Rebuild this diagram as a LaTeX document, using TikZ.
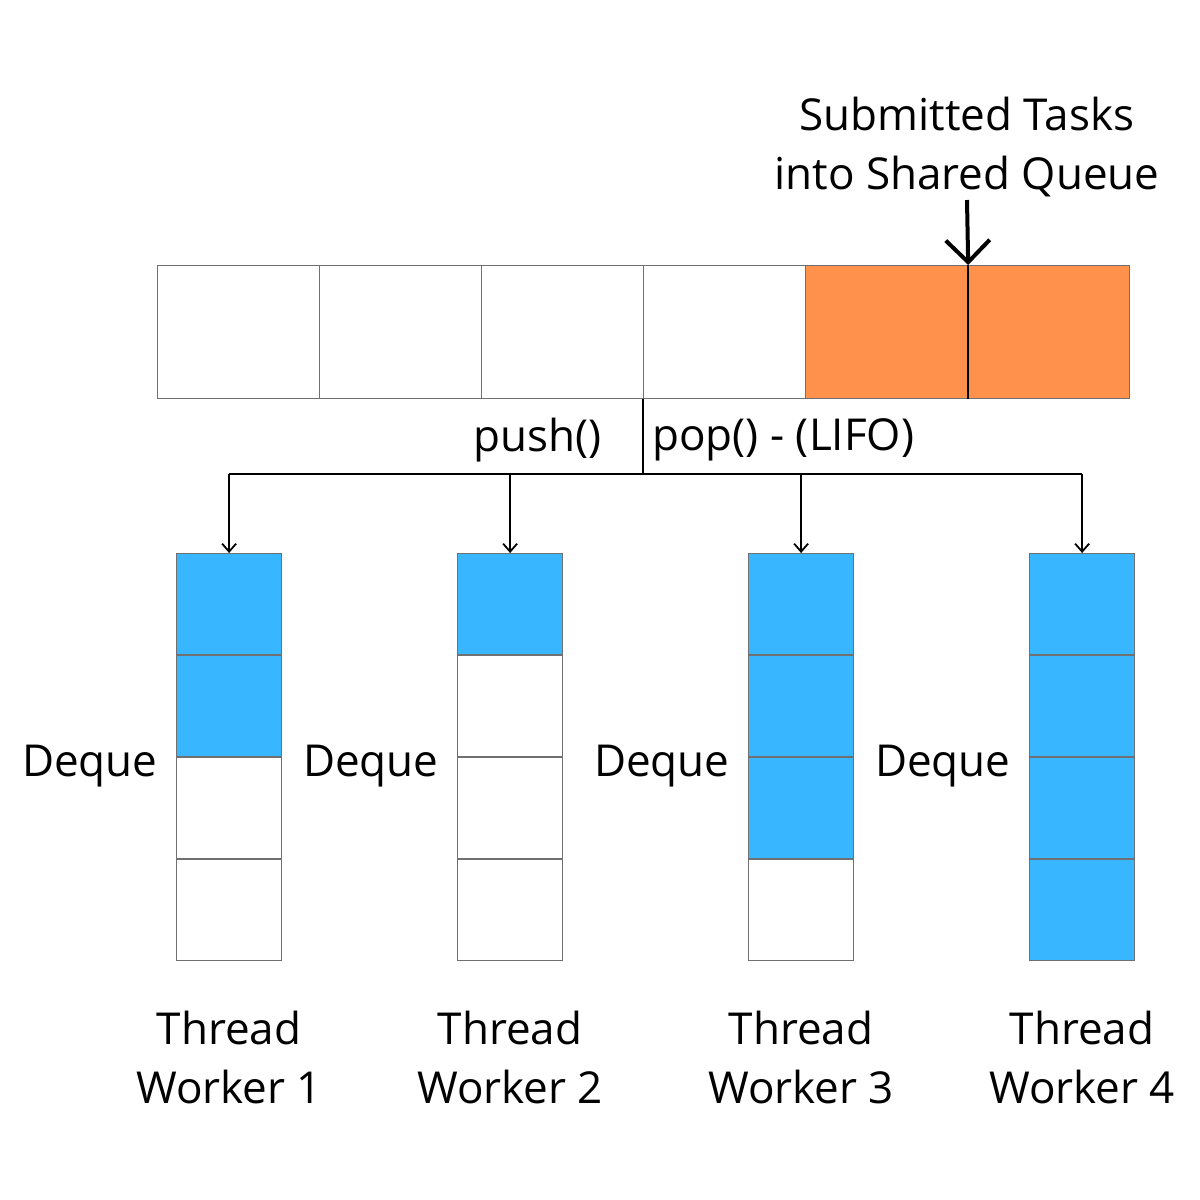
\documentclass[tikz,border=0pt]{standalone}
\usepackage{fontspec}
\setmainfont{Open Sans}
\usetikzlibrary{arrows.meta}
\definecolor{qorange}{HTML}{FF914D}
\definecolor{dblue}{HTML}{38B6FF}
\definecolor{cellgray}{HTML}{707070}

\tikzset{
  qcell/.style={draw=cellgray, line width=0.6pt, inner sep=0pt, anchor=north west,
    minimum width=81pt, minimum height=66.5pt},
  dcell/.style={draw=cellgray, line width=0.6pt, inner sep=0pt, anchor=north west,
    minimum width=52.5pt, minimum height=50.5pt},
  lbl/.style={font=\fontsize{22}{29.5}\selectfont, inner sep=0pt, align=center},
  bus/.style={line width=0.8pt},
  feed/.style={line width=0.8pt, -{Straight Barb[length=4pt,width=7pt,line width=0.9pt]}},
}

\begin{document}
\begin{tikzpicture}[x=0.5pt,y=0.5pt,yscale=-1]
\useasboundingbox (0,0) rectangle (1200,1200);

%shared queue
\foreach \i/\c in {0/white,1/white,2/white,3/white,4/qorange,5/qorange}
  \node[qcell, fill=\c] (q\i) at ({157+162*\i},265) {};
%divider under the arrow
\draw[line width=0.8pt] (q4.north east) -- (q4.south east);

% Text Node
\node[lbl] (sub) at (967,147) {Submitted Tasks\\into Shared Queue};
\coordinate (subend) at (967,200);
\draw[line width=2pt, -{Straight Barb[length=11pt,width=22pt,line width=2pt]}] (subend) -- (q4.north east);

%deques of the workers
\foreach \n/\x/\k in {1/176/2,2/457/1,3/748/3,4/1029/4} {
  \foreach \j in {1,...,4} {
    \ifnum\j>\k \def\fc{white}\else \def\fc{dblue}\fi
    \node[dcell, fill=\fc] (d\n-\j) at ({\x},{553+102*(\j-1)}) {};
  }
  % Text Node
  \node[lbl, anchor=east] (dq\n) at ([xshift=-9pt,yshift=4.5pt]d\n-2.south west) {Deque};
  % Text Node
  \node[lbl] (tw\n) at ([yshift=48pt]d\n-4.south) {Thread\\Worker \n};
}

%push / pop lines
\coordinate (split) at (643,474);
\draw[bus] (q3.south west) -- (split);
\draw[bus] (d1-1.north |- split) -- (d4-1.north |- split);
\foreach \n in {1,...,4}
  \draw[feed] (d\n-1.north |- split) -- (d\n-1.north);

% Text Node
\node[lbl, anchor=east] (push) at (602,440) {push()};
% Text Node
\node[lbl, anchor=west] (pop) at (652,440) {pop() - (LIFO)};
\end{tikzpicture}
\end{document}
